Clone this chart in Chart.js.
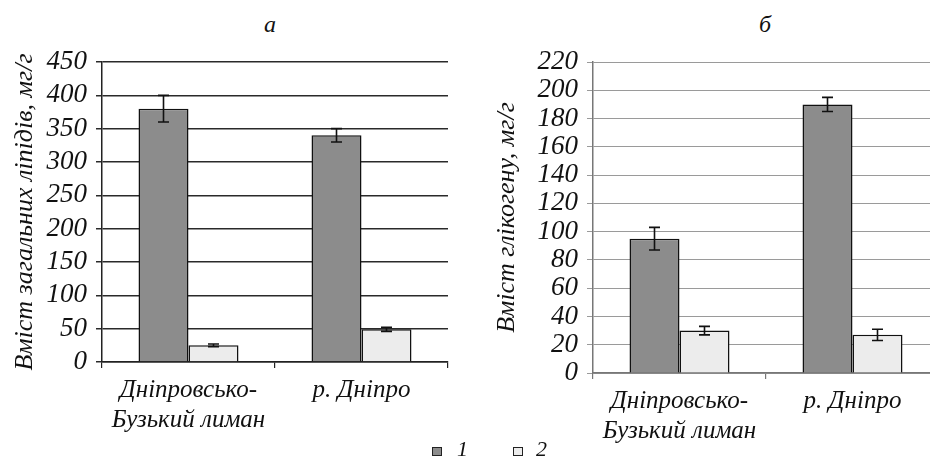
<!DOCTYPE html>
<html lang="uk">
<head>
  <meta charset="UTF-8" />
  <title>Вміст ліпідів і глікогену</title>
  <script src="https://cdn.jsdelivr.net/npm/chart.js"></script>
  <style>
    body {
      margin: 0;
      width: 930px;
      height: 460px;
      overflow: hidden;
      background: #fff;
      position: relative;
      font-family: 'Liberation Serif', serif;
      color: #111;
    }
    .box {
      position: absolute;
      top: 0;
      width: 470px;
      height: 460px;
    }
    #boxA { left: 0; }
    #boxB { left: 470px; }
    .panel-title {
      position: absolute;
      top: 11px;
      font-style: italic;
      font-size: 24px;
    }
    .legend span { position: absolute; }
    .swatch {
      width: 8px;
      height: 7px;
      border: 1.5px solid #222;
      top: 447px;
    }
    .legend .lbl {
      top: 436px;
      font-style: italic;
      font-size: 22px;
    }
  </style>
</head>
<body>
  <div class="panel-title" style="left:264px">а</div>
  <div class="panel-title" style="left:759px">б</div>
  <div class="box" id="boxA"><canvas id="chartA" width="470" height="460"></canvas></div>
  <div class="box" id="boxB"><canvas id="chartB" width="470" height="460"></canvas></div>
  <div class="legend">
    <span class="swatch" style="left:432px;background:#8c8c8c"></span>
    <span class="lbl" style="left:457px">1</span>
    <span class="swatch" style="left:513px;background:#ececec"></span>
    <span class="lbl" style="left:536px">2</span>
  </div>

  <script>
    // categories and series
    const categories = [['Дніпровсько-', 'Бузький лиман'], 'р. Дніпро'];
    const seriesNames = ['1', '2'];

    // panel а: total lipids, mg/g
    const lipids1 = [380, 340];
    const lipids1Err = [20, 10];
    const lipids2 = [25, 49];
    const lipids2Err = [2, 3];
    const lipidTicks = [0, 50, 100, 150, 200, 250, 300, 350, 400, 450];

    // panel б: glycogen, mg/g
    const glyco1 = [95, 190];
    const glyco1Err = [8, 5];
    const glyco2 = [30, 27];
    const glyco2Err = [3, 4];
    const glycoTicks = [0, 20, 40, 60, 80, 100, 120, 140, 160, 180, 200, 220];

    const serif = "'Liberation Serif', serif";
    Chart.defaults.font.family = serif;
    Chart.defaults.font.style = 'italic';

    // whiskers drawn from the bar elements and the y scale
    const errorBars = {
      id: 'errorBars',
      afterDatasetsDraw(chart) {
        const ctx = chart.ctx;
        const y = chart.scales.y;
        ctx.save();
        ctx.strokeStyle = '#111';
        ctx.lineWidth = 1.6;
        chart.data.datasets.forEach((ds, i) => {
          chart.getDatasetMeta(i).data.forEach((bar, j) => {
            const e = ds.errors[j];
            const top = y.getPixelForValue(ds.data[j] + e);
            const bot = y.getPixelForValue(ds.data[j] - e);
            ctx.beginPath();
            ctx.moveTo(bar.x, top); ctx.lineTo(bar.x, bot);
            ctx.moveTo(bar.x - 5.5, top); ctx.lineTo(bar.x + 5.5, top);
            ctx.moveTo(bar.x - 5.5, bot); ctx.lineTo(bar.x + 5.5, bot);
            ctx.stroke();
          });
        });
        ctx.restore();
      }
    };

    function makeChart(id, opts) {
      return new Chart(document.getElementById(id), {
        type: 'bar',
        data: {
          labels: categories,
          datasets: [
            { label: seriesNames[0], data: opts.s1, errors: opts.e1,
              backgroundColor: '#8c8c8c', borderColor: '#111', borderWidth: 1.5 },
            { label: seriesNames[1], data: opts.s2, errors: opts.e2,
              backgroundColor: '#ececec', borderColor: '#111', borderWidth: 1.5 }
          ]
        },
        options: {
          responsive: false,
          animation: false,
          categoryPercentage: 0.578,
          barPercentage: 1.0,
          layout: { padding: { top: 62, right: opts.padRight, bottom: 0, left: 0 } },
          plugins: {
            legend: { display: false },
            tooltip: { enabled: false }
          },
          scales: {
            x: {
              grid: { display: true, drawOnChartArea: false, color: opts.axisColor, tickLength: 6, lineWidth: 1.2 },
              border: { color: opts.axisColor, width: 1.5 },
              ticks: {
                color: '#111',
                padding: 7,
                maxRotation: 0,
                autoSkip: false,
                font: { family: serif, style: 'italic', size: 25, lineHeight: 1.2 }
              },
              afterFit(s) { s.height = opts.xHeight; }
            },
            y: {
              min: opts.ticks[0],
              max: opts.ticks[opts.ticks.length - 1],
              afterBuildTicks(s) { s.ticks = opts.ticks.map(v => ({ value: v })); },
              grid: { color: opts.gridColor, lineWidth: opts.gridWidth, tickLength: 6 },
              border: { color: opts.axisColor, width: 1.5 },
              ticks: {
                color: '#111',
                padding: 9,
                autoSkip: false,
                font: { family: serif, style: 'italic', size: 27 }
              },
              title: {
                display: true,
                text: opts.yTitle,
                color: '#111',
                padding: { top: opts.titlePad, bottom: 0 },
                font: { family: serif, style: 'italic', size: 26 }
              },
              afterFit(s) { s.width = opts.yWidth; }
            }
          }
        },
        plugins: [errorBars]
      });
    }

    makeChart('chartA', {
      s1: lipids1, e1: lipids1Err, s2: lipids2, e2: lipids2Err,
      ticks: lipidTicks,
      yTitle: 'Вміст загальних ліпідів, мг/г',
      yWidth: 102, xHeight: 98, padRight: 22, titlePad: 10,
      gridColor: '#2a2a2a', gridWidth: 1.5, axisColor: '#222'
    });

    makeChart('chartB', {
      s1: glyco1, e1: glyco1Err, s2: glyco2, e2: glyco2Err,
      ticks: glycoTicks,
      yTitle: 'Вміст глікогену, мг/г',
      yWidth: 123, xHeight: 87, padRight: 1, titlePad: 22,
      gridColor: '#9a9a9a', gridWidth: 1, axisColor: '#777'
    });
  </script>
</body>
</html>
